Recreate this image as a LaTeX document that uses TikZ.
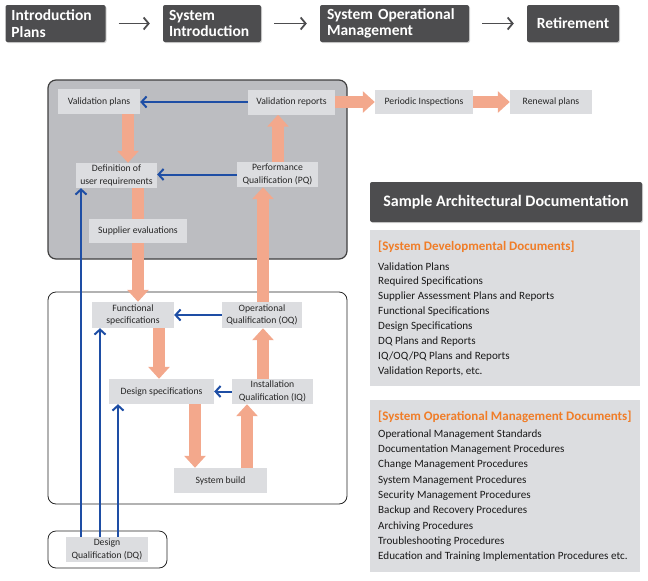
\documentclass[tikz,border=0pt]{standalone}
\usepackage{fontspec}
\setmainfont{Carlito}
\usepackage{xcolor}
\usepackage{tikz}
\usetikzlibrary{arrows.meta,shadows}

\definecolor{stagegray}{RGB}{77,77,79}
\definecolor{panelgray}{RGB}{188,189,193}
\definecolor{boxgray}{RGB}{220,221,224}
\definecolor{flowsalmon}{RGB}{243,168,140}
\definecolor{backblue}{RGB}{30,78,165}
\definecolor{titleorange}{RGB}{240,125,40}

\pgfdeclarelayer{panels}
\pgfdeclarelayer{links}
\pgfsetlayers{panels,links,main}

\begin{document}
\begin{tikzpicture}[x=1pt,y=-1pt,
    stage/.style={fill=stagegray, text=white, font=\bfseries\fontsize{15.5}{16.5}\selectfont, rounded corners=2pt, minimum height=37pt, inner sep=0pt, drop shadow={opacity=0.35,shadow xshift=1pt,shadow yshift=-1pt}},
    stagearrow/.style={draw=stagegray, line width=1.8pt, shorten <=13pt, shorten >=13pt, -{Straight Barb[length=5pt,width=12pt]}},
    vbox/.style={fill=boxgray, font=\fontsize{9.7}{12.5}\selectfont, text=black!85, align=center, minimum height=25pt, inner sep=0pt},
    flow/.style={draw=flowsalmon, line width=12pt, -{Triangle[length=12pt,width=21pt]}},
    back/.style={draw=backblue, line width=2pt, -{Straight Barb[length=5pt,width=11pt]}},
    panel/.style={rounded corners=8pt},
    docitem/.style={anchor=west, inner sep=0pt, font=\fontsize{11.1}{12}\selectfont, text=black!90},
    doctitle/.style={anchor=west, inner sep=0pt, font=\bfseries\fontsize{13}{15}\selectfont, text=titleorange}]
  \useasboundingbox (0,0) rectangle (648,581);

  % Life cycle stages
  \node[stage, minimum width=100pt, text width=88pt, align=left] (stage1) at (55.5,23.5) {Introduction\\Plans};
  \node[stage, minimum width=98pt, text width=86pt, align=left] (stage2) at (212,23.5) {System\\Introduction};
  \node[stage, minimum width=149pt, text width=135pt, align=left] (stage3) at (394.5,23.5) {System Operational\\Management};
  \node[stage, minimum width=92pt] (stage4) at (573,23.5) {Retirement};
  \draw[stagearrow] (stage1) -- (stage2);
  \draw[stagearrow] (stage2) -- (stage3);
  \draw[stagearrow] (stage3) -- (stage4);

  % Panels
  \begin{pgfonlayer}{panels}
    \draw[panel, fill=panelgray, draw=black!75, line width=1.2pt] (48,80) rectangle (347,259);
    \draw[panel, draw=black!85, line width=0.8pt] (48,292) rectangle (347,504);
    \draw[panel, draw=black!85, line width=0.8pt] (48,531) rectangle (167,568);
  \end{pgfonlayer}

  % Validation steps
  \node[vbox, minimum width=82pt] (vplan) at (99,101.5) {Validation plans};
  \node[vbox, minimum width=87pt] (vrep) at (291.5,102) {Validation reports};
  \node[vbox, minimum width=81pt] (defreq) at (116.5,175.5) {Definition of\\user requirements};
  \node[vbox, minimum width=81pt] (pq) at (277.5,174.5) {Performance\\Qualification (PQ)};
  \node[vbox, minimum width=98pt, minimum height=24pt] (supeval) at (138,231) {Supplier evaluations};
  \node[vbox, minimum width=98pt, minimum height=24pt] (perins) at (424,102) {Periodic Inspections};
  \node[vbox, minimum width=82pt, minimum height=24pt] (renew) at (551,102) {Renewal plans};
  \node[vbox, minimum width=82pt, minimum height=26pt] (funcspec) at (133,315) {Functional\\specifications};
  \node[vbox, minimum width=80pt, minimum height=26pt] (oq) at (262,315) {Operational\\Qualification (OQ)};
  \node[vbox, minimum width=105pt] (desspec) at (161.5,391.5) {Design specifications};
  \node[vbox, minimum width=81pt] (iq) at (272.5,391.5) {Installation\\Qualification (IQ)};
  \node[vbox, minimum width=93pt] (sysbuild) at (220.5,480.5) {System build};
  \node[vbox, minimum width=82pt] (dq) at (107,549.5) {Design\\Qualification (DQ)};

  \begin{pgfonlayer}{links}
    % Forward flow
    \draw[flow] (vplan.south -| 128,0) -- (defreq.north -| 128,0);
    \draw[flow] (defreq.south -| 138,0) -- (funcspec.north -| 138,0);
    \draw[flow] (funcspec.south -| 159,0) -- (desspec.north -| 159,0);
    \draw[flow] (desspec.south -| 195,0) -- (sysbuild.north -| 195,0);
    \draw[flow] (sysbuild.north -| 247,0) -- (iq.south -| 247,0);
    \draw[flow] (iq.north -| 263,0) -- (oq.south -| 263,0);
    \draw[flow] (oq.north -| 263,0) -- (pq.south -| 263,0);
    \draw[flow] (pq.north -| 278,0) -- (vrep.south -| 278,0);
    \draw[flow] (vrep.east) -- (vrep.east -| perins.west);
    \draw[flow] (perins.east) -- (perins.east -| renew.west);

    % Verification back
    \draw[back] (vrep.west) -- (vrep.west -| vplan.east);
    \draw[back] (pq.west) -- (pq.west -| defreq.east);
    \draw[back] (oq.west) -- (oq.west -| funcspec.east);
    \draw[back] (iq.west) -- (iq.west -| desspec.east);
    \draw[back] (dq.north -| 81,0) -- (defreq.south -| 81,0);
    \draw[back] (dq.north -| 100,0) -- (funcspec.south -| 100,0);
    \draw[back] (dq.north -| 118,0) -- (desspec.south -| 118,0);
  \end{pgfonlayer}

  % Documentation
  \node[stage, font=\bfseries\fontsize{16}{17}\selectfont, minimum width=272pt, minimum height=40pt] (sampledoc) at (506,202) {Sample Architectural Documentation};
  \fill[boxgray] (370,230) rectangle (640,386);
  \fill[boxgray] (370,400) rectangle (640,572);
  \node[doctitle] (devtitle) at (378,247) {[System Developmental Documents]};
  \foreach \t [count=\i] in {Validation Plans, Required Specifications, Supplier Assessment Plans and Reports, Functional Specifications, Design Specifications, DQ Plans and Reports, IQ/OQ/PQ Plans and Reports, {Validation Reports, etc.}}
    \node[docitem] (devdoc\i) at (378,252+15*\i) {\t};
  \node[doctitle] (optitle) at (378,417) {[System Operational Management Documents]};
  \foreach \t [count=\i] in {Operational Management Standards, Documentation Management Procedures, Change Management Procedures, System Management Procedures, Security Management Procedures, Backup and Recovery Procedures, Archiving Procedures, Troubleshooting Procedures, Education and Training Implementation Procedures etc.}
    \node[docitem] (opdoc\i) at (378,419+15.3*\i) {\t};
\end{tikzpicture}
\end{document}
